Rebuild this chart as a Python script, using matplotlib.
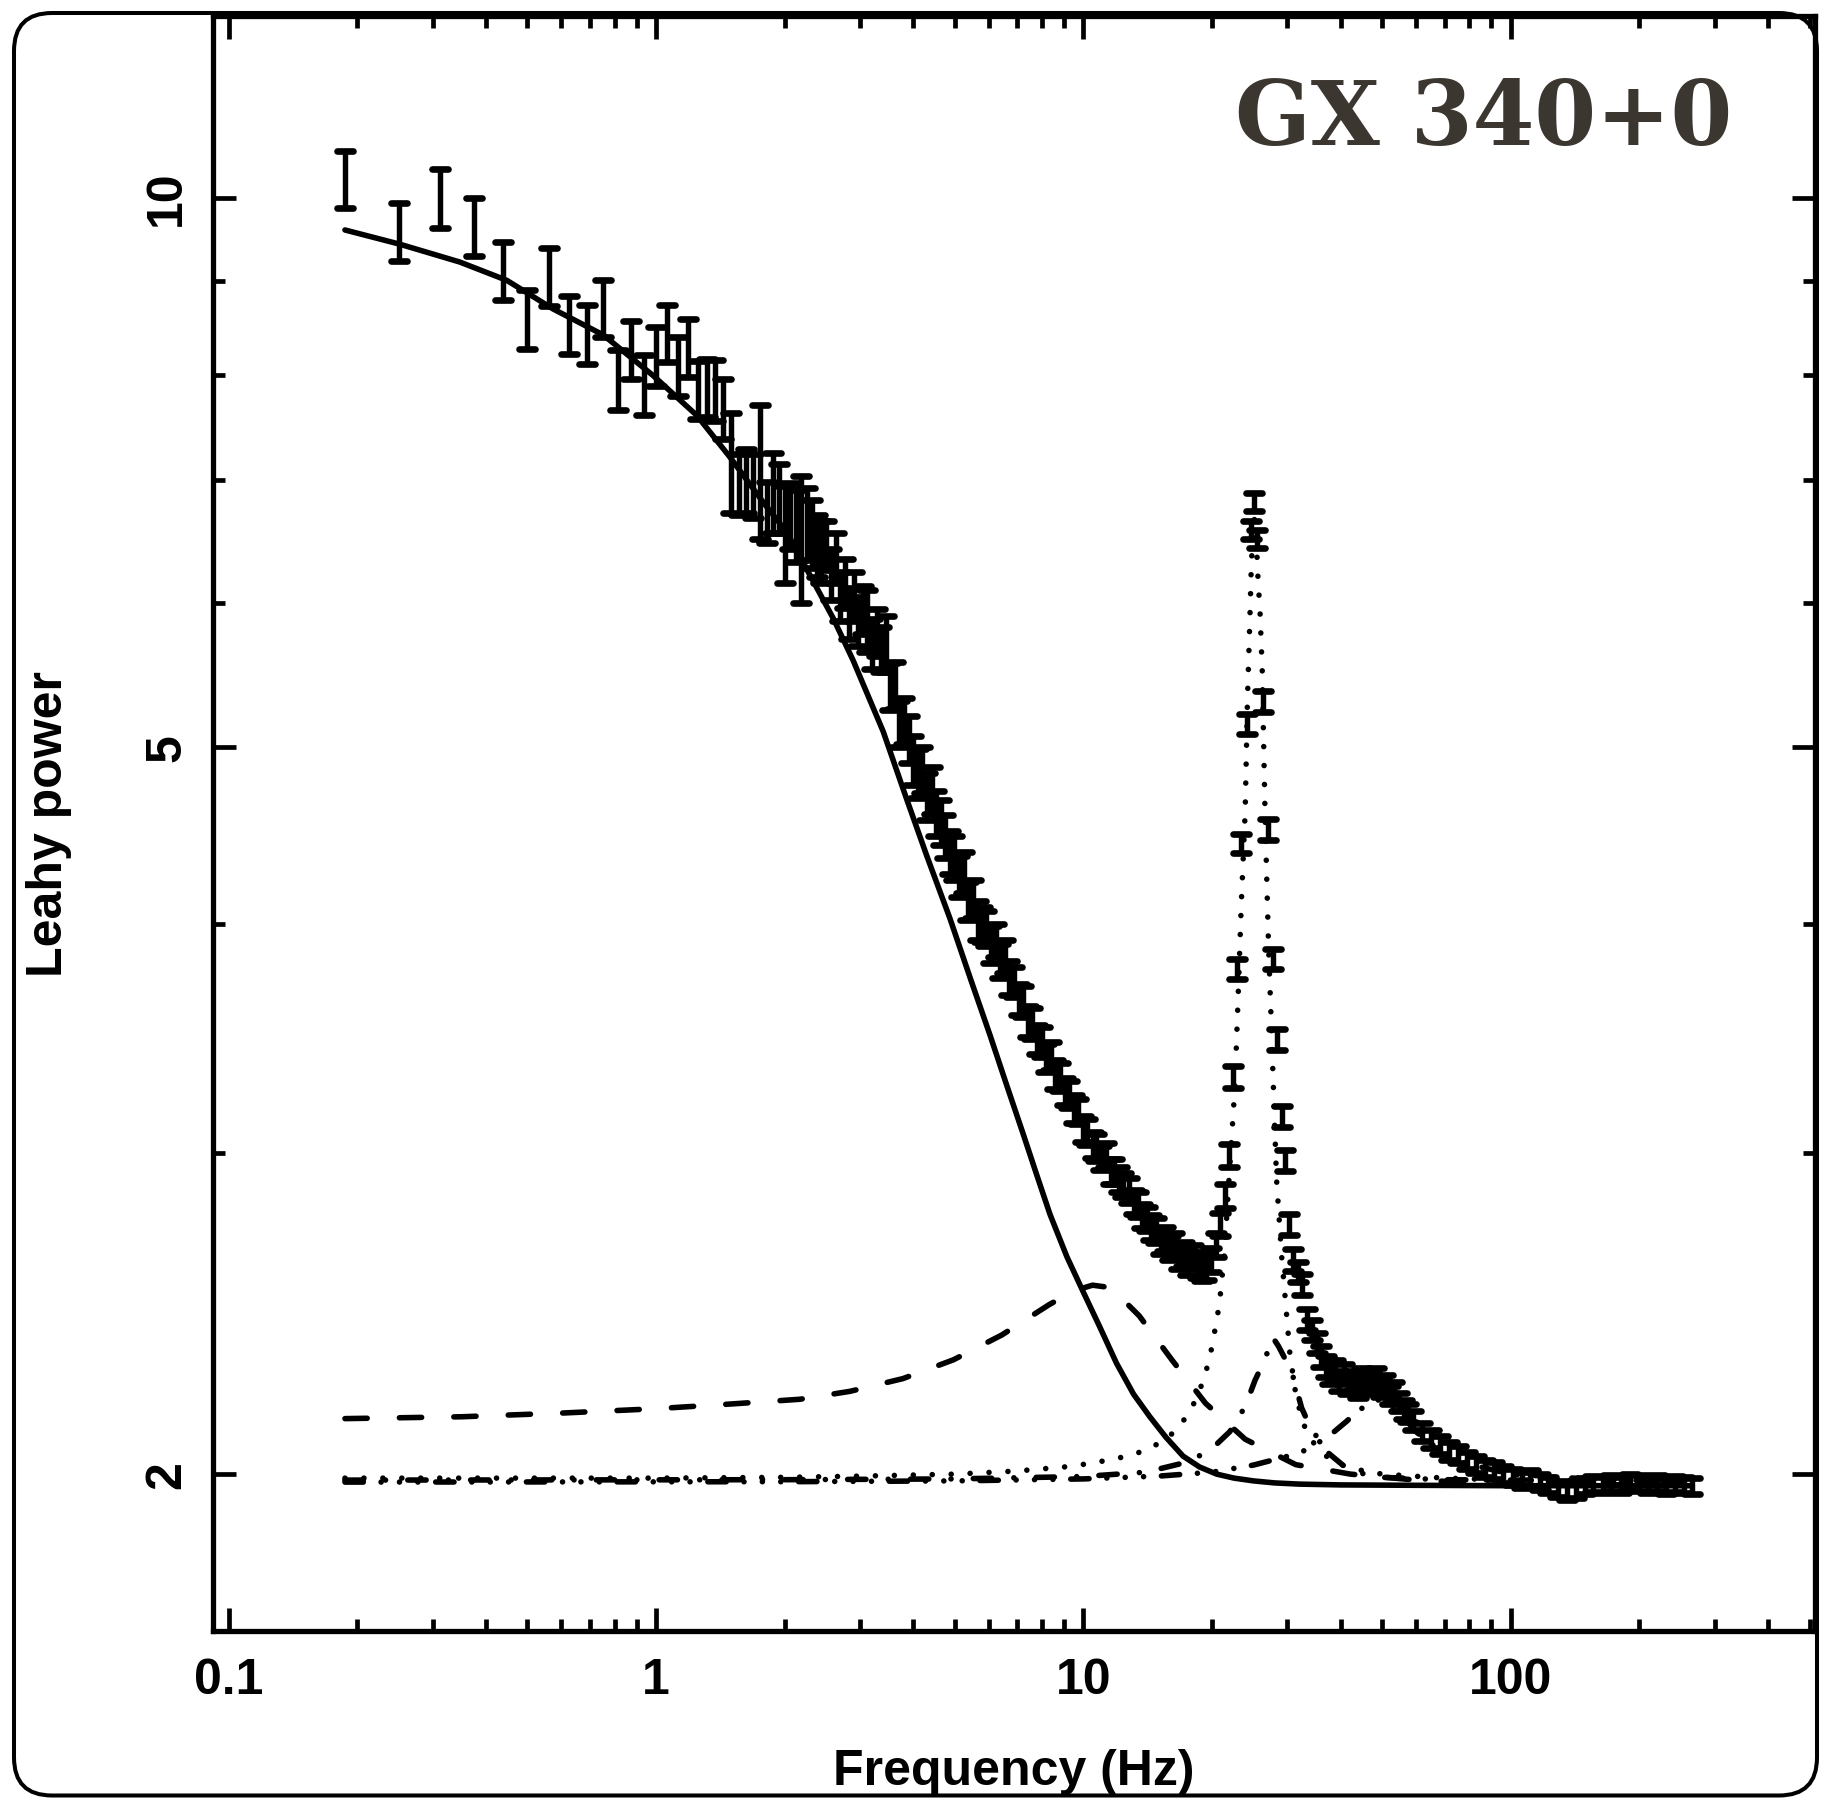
import matplotlib
matplotlib.use('Agg')
import matplotlib.pyplot as plt
from matplotlib.patches import FancyBboxPatch
from matplotlib.markers import MarkerStyle
from matplotlib.ticker import FixedLocator, FixedFormatter, NullFormatter, LogLocator

# --- measured power spectrum (Leahy normalised) ---
freq = [0.1875, 0.25, 0.3125, 0.375, 0.4375, 0.5, 0.5625, 0.625, 0.6875, 0.75,
        0.8125, 0.875, 0.9375, 1.0, 1.0625, 1.125, 1.1875, 1.25, 1.3125, 1.375,
        1.4375, 1.5, 1.5625, 1.625, 1.6875, 1.75, 1.8125, 1.875, 1.9375, 2.0,
        2.0625, 2.125, 2.1875, 2.25, 2.3125, 2.375, 2.4375,
        2.50, 2.56, 2.63, 2.69, 2.76, 2.83, 2.90, 2.97, 3.05, 3.12,
        3.20, 3.28, 3.36, 3.45, 3.53, 3.62, 3.71, 3.80, 3.90, 4.00,
        4.10, 4.20, 4.30, 4.41, 4.52, 4.63, 4.75, 4.87, 4.99, 5.12,
        5.24, 5.38, 5.51, 5.65, 5.79, 5.93, 6.08, 6.23, 6.39, 6.55,
        6.71, 6.88, 7.05, 7.23, 7.41, 7.59, 7.78, 7.98, 8.18, 8.38,
        8.59, 8.81, 9.03, 9.25, 9.48, 9.72, 9.97, 10.2, 10.5, 10.7,
        11.0, 11.3, 11.6, 11.8, 12.1, 12.4, 12.8, 13.1, 13.4, 13.7,
        14.1, 14.4, 14.8, 15.2, 15.5, 15.9, 16.3, 16.7, 17.2, 17.6,
        18.0, 18.5, 18.9, 19.4, 19.9, 20.4, 20.9, 21.4, 21.9, 22.4,
        22.9, 23.4, 24.1, 24.6, 25.0, 25.5, 26.3, 27.1, 27.8, 28.4,
        29.1, 29.7, 30.3, 31.0, 31.7, 32.4, 33.3, 34.2, 35.1, 36.0,
        36.9, 37.8, 38.8, 39.7, 40.7, 41.7, 42.8, 43.8, 44.9, 46.1,
        47.2, 48.4, 49.6, 50.9, 52.1, 53.4, 54.8, 56.2, 57.6, 59.0,
        62.0, 65.1, 68.3, 71.7, 75.3, 79.1, 83.0, 87.2, 91.5, 96.1,
        101, 106, 111, 117, 122, 129, 135, 142, 149, 156,
        164, 172, 181, 190, 199, 209, 220, 231, 242, 254, 265]
power = [10.24, 9.58, 10.0, 9.64, 9.12, 8.58, 9.05, 8.52, 8.42, 8.70,
         7.95, 8.26, 7.90, 8.19, 8.43, 8.09, 8.28, 7.85, 7.87, 7.85,
         7.67, 7.17, 6.97, 7.00, 6.96, 7.10, 6.73, 6.90, 6.85, 6.55,
         6.70, 6.62, 6.52, 6.63, 6.55, 6.45, 6.40,
         6.45, 6.22, 6.35, 6.05, 6.15, 5.92, 6.05, 5.86, 5.95, 5.87,
         5.70, 5.78, 5.66, 5.70, 5.40, 5.41, 5.15, 5.17, 5.05, 4.92,
         4.84, 4.86, 4.70, 4.74, 4.60, 4.55, 4.47, 4.38, 4.35, 4.25,
         4.27, 4.12, 4.13, 4.02, 4.00, 3.98, 3.90, 3.92, 3.82, 3.84,
         3.74, 3.72, 3.64, 3.63, 3.54, 3.53, 3.46, 3.45, 3.38, 3.39,
         3.31, 3.30, 3.24, 3.23, 3.17, 3.16, 3.09, 3.08, 3.03, 3.02,
         2.98, 2.99, 2.93, 2.93, 2.90, 2.88, 2.86, 2.82, 2.81, 2.77,
         2.76, 2.73, 2.72, 2.68, 2.69, 2.66, 2.67, 2.63, 2.64, 2.61,
         2.63, 2.60, 2.59, 2.60, 2.62, 2.67, 2.74, 2.84, 2.99, 3.30,
         3.78, 4.43, 5.15, 6.58, 6.81, 6.50, 5.30, 4.51, 3.83, 3.46,
         3.14, 2.97, 2.74, 2.62, 2.58, 2.54, 2.43, 2.40, 2.36, 2.32,
         2.29, 2.27, 2.28, 2.25, 2.27, 2.24, 2.25, 2.23, 2.26, 2.24,
         2.25, 2.26, 2.23, 2.24, 2.21, 2.22, 2.19, 2.17, 2.16, 2.14,
         2.11, 2.09, 2.075, 2.06, 2.05, 2.035, 2.025, 2.015, 2.01, 2.0,
         1.992, 1.985, 1.99, 1.98, 1.972, 1.962, 1.956, 1.96, 1.97, 1.975,
         1.972, 1.978, 1.974, 1.98, 1.977, 1.972, 1.978, 1.97, 1.976, 1.973, 1.97]
power_err = [0.37, 0.35, 0.37, 0.35, 0.33, 0.32, 0.33, 0.31, 0.31, 0.31,
             0.30, 0.30, 0.30, 0.30, 0.30, 0.30, 0.30, 0.29, 0.29, 0.30,
             0.29, 0.45, 0.27, 0.28, 0.28, 0.60, 0.26, 0.35, 0.30, 0.40,
             0.28, 0.30, 0.52, 0.30, 0.28, 0.25, 0.25,
             0.20, 0.20, 0.20, 0.19, 0.19, 0.19, 0.19, 0.18, 0.18, 0.23,
             0.18, 0.17, 0.16, 0.20, 0.16, 0.16, 0.15, 0.15, 0.15, 0.15,
             0.15, 0.14, 0.14, 0.14, 0.13, 0.13, 0.12, 0.12, 0.12, 0.11,
             0.11, 0.10, 0.10, 0.10, 0.09, 0.09, 0.09, 0.08, 0.08, 0.08,
             0.08, 0.07, 0.07, 0.07, 0.07, 0.07, 0.065, 0.065, 0.06, 0.06,
             0.06, 0.06, 0.055, 0.055, 0.055, 0.05, 0.05, 0.05, 0.05, 0.05,
             0.045, 0.045, 0.045, 0.045, 0.045, 0.045, 0.045, 0.043, 0.043, 0.043,
             0.042, 0.042, 0.042, 0.041, 0.041, 0.041, 0.04, 0.04, 0.04, 0.04,
             0.04, 0.04, 0.04, 0.045, 0.04, 0.04, 0.04, 0.042, 0.044, 0.045,
             0.048, 0.055, 0.065, 0.075, 0.077, 0.075, 0.07, 0.06, 0.05, 0.045,
             0.04, 0.04, 0.035, 0.035, 0.033, 0.033, 0.032, 0.03, 0.03, 0.03,
             0.03, 0.03, 0.03, 0.028, 0.028, 0.028, 0.028, 0.028, 0.027, 0.027,
             0.027, 0.027, 0.026, 0.026, 0.026, 0.026, 0.025, 0.025, 0.025, 0.025,
             0.024, 0.024, 0.023, 0.023, 0.022, 0.022, 0.022, 0.021, 0.021, 0.021,
             0.02, 0.02, 0.02, 0.02, 0.02, 0.02, 0.02, 0.02, 0.02, 0.02,
             0.02, 0.02, 0.02, 0.02, 0.02, 0.02, 0.02, 0.02, 0.02, 0.02, 0.02]

# --- model components (each incl. Poisson level) ---
# zero-centred Lorentzian (solid)
zero_f = [0.187, 0.251, 0.347, 0.447, 0.574, 0.752, 0.984, 1.244, 1.488, 1.781,
          2.02, 2.17, 2.60, 2.89, 3.40, 3.85, 4.30, 4.87, 5.45, 6.04,
          6.60, 7.23, 7.78, 8.35, 9.15, 10.0, 10.9, 11.95, 13.1, 14.3,
          15.6, 17.1, 18.7, 20.5, 22.5, 25.0, 28.0, 32.0, 40.0, 60.0,
          100.0, 265.0]
zero_p = [9.60, 9.43, 9.22, 9.01, 8.69, 8.41, 7.99, 7.60, 7.21, 6.81,
          6.56, 6.36, 5.88, 5.58, 5.10, 4.69, 4.36, 4.03, 3.73, 3.48,
          3.27, 3.07, 2.915, 2.775, 2.63, 2.515, 2.41, 2.30, 2.212, 2.15,
          2.095, 2.046, 2.018, 2.0, 1.99, 1.983, 1.978, 1.975, 1.973, 1.972,
          1.971, 1.971]
# broad Lorentzian near 10 Hz (dashed)
lor10_f = [0.187, 0.35, 0.6, 1.0, 1.5, 2.17, 2.84, 3.78, 4.96, 6.45,
           8.30, 9.5, 10.5, 11.6, 13.5, 16.1, 19.3, 23.9, 31.4, 42.2,
           60.0, 100.0, 265.0]
lor10_p = [2.145, 2.15, 2.16, 2.172, 2.185, 2.198, 2.22, 2.256, 2.31, 2.384,
           2.476, 2.52, 2.538, 2.53, 2.442, 2.31, 2.187, 2.09, 2.024, 2.0,
           1.985, 1.975, 1.972]
# QPO at 25 Hz (dotted)
qpo_f = [0.187, 0.5, 1.0, 2.0, 3.0, 5.0, 7.0, 9.0, 10.5, 12.7,
         14.05, 15.5, 16.7, 17.6, 18.4, 19.1, 19.7, 20.1, 20.8, 21.4,
         22.0, 22.6, 23.0, 23.4, 23.9, 24.2, 24.5, 24.7, 24.95, 25.1,
         25.3, 25.6, 25.9, 26.2, 26.6, 27.1, 27.6, 28.0, 28.3, 29.1,
         29.9, 30.4, 31.5, 33.0, 35.0, 38.0, 42.0, 50.0, 70.0, 100.0, 265.0]
qpo_p = [1.99, 1.99, 1.99, 1.992, 1.995, 2.0, 2.008, 2.018, 2.028, 2.046,
         2.062, 2.088, 2.12, 2.16, 2.2, 2.254, 2.31, 2.366, 2.478, 2.65,
         2.95, 3.25, 3.64, 4.10, 4.61, 5.32, 5.85, 6.28, 6.6, 6.67,
         6.6, 6.2, 5.92, 5.51, 4.6, 3.9, 3.45, 3.12, 2.9, 2.63,
         2.44, 2.33, 2.20, 2.12, 2.07, 2.035, 2.015, 2.0, 1.99, 1.985, 1.982]
# Lorentzian near 28 Hz (dash-dot)
lor28_f = [0.187, 2.0, 5.0, 10.0, 14.0, 17.4, 19.8, 22.0, 23.9, 25.2,
           26.6, 27.7, 28.6, 30.0, 31.0, 32.4, 34.0, 35.8, 37.4, 42.0,
           49.8, 70.0, 100.0, 265.0]
lor28_p = [1.985, 1.986, 1.988, 1.994, 2.005, 2.03, 2.061, 2.11, 2.178, 2.251,
           2.312, 2.377, 2.35, 2.30, 2.258, 2.174, 2.12, 2.084, 2.054, 2.008,
           1.992, 1.986, 1.985, 1.984]
# Lorentzian near 50 Hz (dash-dot-dot-dot)
lor50_f = [0.187, 2.0, 5.0, 10.0, 15.0, 20.0, 25.0, 32.1, 35.8, 37.7,
           41.3, 44.3, 49.4, 55.0, 60.0, 70.0, 80.0, 100.0, 150.0, 265.0]
lor50_p = [1.98, 1.981, 1.983, 1.988, 1.995, 2.005, 2.023, 2.054, 2.084, 2.10,
           2.138, 2.17, 2.198, 2.16, 2.11, 2.05, 2.025, 2.0, 1.988, 1.982]

plt.rcParams['font.family'] = ['Liberation Sans', 'DejaVu Sans']
plt.rcParams['font.weight'] = 'bold'

fig = plt.figure(figsize=(18.21, 17.99), dpi=100)
ax = fig.add_axes([0.1167, 0.0928, 0.880, 0.898])
ax.set_xscale('log')
ax.set_yscale('log')
ax.set_xlim(0.0916, 515)
ax.set_ylim(1.641, 12.58)

eb = ax.errorbar(freq, power, yerr=power_err, fmt='none', ecolor='black',
                 elinewidth=3.9, capsize=5.6, capthick=4.8)
for cap in eb[1]:
    cap.set_marker(MarkerStyle('_', capstyle='round'))
for col in eb[2]:
    col.set_capstyle('round')

lw = 4.0
ax.plot(zero_f, zero_p, color='black', lw=lw, solid_capstyle='round',
        solid_joinstyle='round')
ax.plot(lor10_f, lor10_p, color='black', lw=lw, dashes=(4.0, 5.8), dash_capstyle='round')
ax.plot(qpo_f, qpo_p, color='black', lw=lw, dashes=(0.01, 3.4), dash_capstyle='round')
ax.plot(lor28_f, lor28_p, color='black', lw=lw, dashes=(3.3, 4.0, 0.01, 4.0),
        dash_capstyle='round')
ax.plot(lor50_f, lor50_p, color='black', lw=lw,
        dashes=(3.3, 3.2, 0.01, 3.3, 0.01, 3.3, 0.01, 3.2), dash_capstyle='round')

# axes and ticks
ax.xaxis.set_major_locator(FixedLocator([0.1, 1, 10, 100]))
ax.xaxis.set_major_formatter(FixedFormatter(['0.1', '1', '10', '100']))
ax.xaxis.set_minor_locator(LogLocator(base=10, subs=range(2, 10), numticks=20))
ax.xaxis.set_minor_formatter(NullFormatter())
ax.yaxis.set_major_locator(FixedLocator([2, 5, 10]))
ax.yaxis.set_major_formatter(FixedFormatter(['2', '5', '10']))
ax.yaxis.set_minor_locator(FixedLocator([3, 4, 6, 7, 8, 9]))
ax.yaxis.set_minor_formatter(NullFormatter())

ax.tick_params(which='both', direction='in', top=True, right=True, width=3.4)
ax.tick_params(which='major', length=16.5, labelsize=36)
ax.tick_params(which='minor', length=8.6)
ax.tick_params(axis='x', which='major', pad=19)
ax.tick_params(axis='y', which='major', pad=16, labelrotation=90)
for lbl in ax.get_yticklabels():
    lbl.set_va('center')
for sp in ax.spines.values():
    sp.set_linewidth(3.8)

ax.set_xlabel('Frequency (Hz)', fontsize=36, fontweight='bold', labelpad=32)
ax.set_ylabel('Leahy power', fontsize=36, fontweight='bold', labelpad=52)

fig.text(1484 / 1821, 1 - 145 / 1799, 'GX 340+0', ha='center', va='baseline',
         fontsize=64, family='DejaVu Serif', weight='bold', color='#3b3630')

frame = FancyBboxPatch((0.14, 0.025), 18.03, 17.825,
                       boxstyle='round,pad=0,rounding_size=0.38',
                       transform=fig.dpi_scale_trans, fill=False, lw=2.9,
                       ec='black')
fig.add_artist(frame)

fig.savefig('out.png', dpi=100)
